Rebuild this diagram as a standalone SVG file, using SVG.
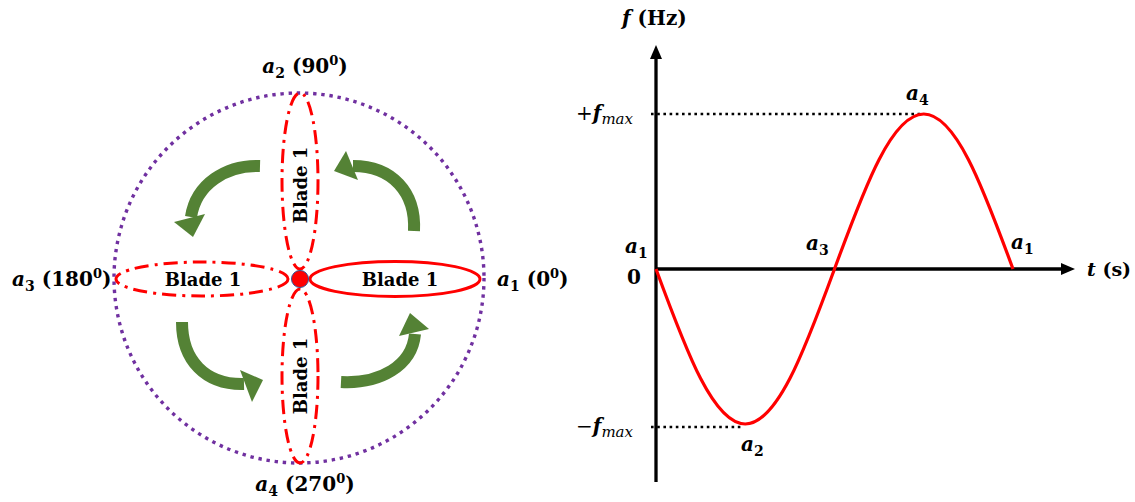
<svg xmlns="http://www.w3.org/2000/svg" width="1135" height="502" viewBox="0 0 1135 502">
<style>
.t{font-family:"DejaVu Serif","Liberation Serif",serif;font-weight:bold;fill:#000}
.m{font-style:italic}
.n{font-weight:normal}
.blade{fill:none;stroke:#ff0000;stroke-width:3}
.dd{stroke-dasharray:14 6 3 6}
.rot{fill:none;stroke:#548235;stroke-width:12}
.head{fill:#548235}
.dot{fill:none;stroke:#000;stroke-width:2.6;stroke-dasharray:2.6 3.6}
.axis{stroke:#000;stroke-width:3.3;fill:none}
</style>
<defs>
<marker id="ah" markerUnits="userSpaceOnUse" markerWidth="16" markerHeight="14" refX="2" refY="6" orient="auto">
<path d="M0,0 L14,6 L0,12 Z" fill="#000"/>
</marker>
</defs>

<g id="rotor-circle">
<circle cx="299" cy="278" r="185" fill="none" stroke="#7030a0" stroke-width="3.4" stroke-dasharray="3.4 4.8"/>
</g>

<g id="blade-right">
<ellipse class="blade" cx="395" cy="279" rx="85" ry="17.5"/>
<text class="t" x="400" y="286" font-size="18" text-anchor="middle">Blade 1</text>
</g>
<g id="blade-left">
<ellipse class="blade dd" cx="202" cy="279" rx="86" ry="17"/>
<text class="t" x="203" y="286" font-size="18" text-anchor="middle">Blade 1</text>
</g>
<g id="blade-top">
<ellipse class="blade dd" cx="300" cy="181" rx="18" ry="88"/>
<text class="t" transform="translate(307,185) rotate(-90)" font-size="18" text-anchor="middle">Blade 1</text>
</g>
<g id="blade-bottom">
<ellipse class="blade dd" cx="300" cy="376" rx="18" ry="87"/>
<text class="t" transform="translate(307,376) rotate(-90)" font-size="18" text-anchor="middle">Blade 1</text>
</g>
<g id="hub">
<circle cx="300" cy="279" r="8.5" fill="#ff0000" stroke="#2f5597" stroke-width="1"/>
</g>

<g id="rotation-arrows">
<path class="rot" d="M260,166 C226,165 196,184 191,217"/>
<polygon class="head" points="174,222 205,214 193,237"/>
<path class="rot" d="M414,231 C416,192 392,166 353,166"/>
<polygon class="head" points="346,151 358,180 334,171"/>
<path class="rot" d="M182,322 C182,360 205,385 244,384"/>
<polygon class="head" points="240,370 252,402 263,380"/>
<path class="rot" d="M341,382 C380,384 412,366 415,334"/>
<polygon class="head" points="399,336 429,329 410,313"/>
</g>

<g id="angle-labels">
<text class="t" x="305" y="73" font-size="20" text-anchor="middle"><tspan class="m">a</tspan><tspan font-size="14" dy="5">2</tspan><tspan dy="-5"> (90</tspan><tspan font-size="13" dy="-8">0</tspan><tspan dy="8">)</tspan></text>
<text class="t" x="12" y="286" font-size="20"><tspan class="m">a</tspan><tspan font-size="14" dy="5">3</tspan><tspan dy="-5"> (180</tspan><tspan font-size="13" dy="-8">0</tspan><tspan dy="8">)</tspan></text>
<text class="t" x="497" y="286" font-size="20"><tspan class="m">a</tspan><tspan font-size="14" dy="5">1</tspan><tspan dy="-5"> (0</tspan><tspan font-size="13" dy="-8">0</tspan><tspan dy="8">)</tspan></text>
<text class="t" x="305" y="491" font-size="20" text-anchor="middle"><tspan class="m">a</tspan><tspan font-size="14" dy="5">4</tspan><tspan dy="-5"> (270</tspan><tspan font-size="13" dy="-8">0</tspan><tspan dy="8">)</tspan></text>
</g>

<g id="graph-connectors">
<line class="axis" x1="656" y1="482" x2="656" y2="57" marker-end="url(#ah)"/>
<line class="axis" x1="656" y1="269" x2="1063" y2="269" marker-end="url(#ah)"/>
<line class="dot" x1="651" y1="114" x2="922" y2="114"/>
<line class="dot" x1="651" y1="427" x2="742" y2="427"/>
<path fill="none" stroke="#ff0000" stroke-width="3.2" d="M656,269 C670.875,309.58 685.75,349.91 700.625,378.6 C715.5,407.29 730.375,424 745.25,424 C760.125,424 775,407.29 789.875,378.6 C804.75,349.91 819.625,309.58 834.5,269 C849.375,228.42 864.25,188.09 879.125,159.4 C894,130.71 908.875,114 923.75,114 C938.625,114 953.5,130.71 968.375,159.4 C983.25,188.09 998.125,228.42 1013,269"/>
</g>

<g id="graph-labels">
<text class="t" x="622" y="25" font-size="20"><tspan class="m">f</tspan> (Hz)</text>
<text class="t" x="1087" y="276" font-size="19"><tspan class="m">t</tspan> (s)</text>
<text class="t" x="576" y="120" font-size="20"><tspan class="n">+</tspan><tspan class="m">f</tspan><tspan class="m n" font-size="15" dy="4">max</tspan></text>
<text class="t" x="576" y="433" font-size="20"><tspan class="n">−</tspan><tspan class="m">f</tspan><tspan class="m n" font-size="15" dy="4">max</tspan></text>
<text class="t" x="625" y="253" font-size="20"><tspan class="m">a</tspan><tspan font-size="14" dy="5">1</tspan></text>
<text class="t" x="627" y="284" font-size="20">0</text>
<text class="t" x="806" y="250" font-size="20"><tspan class="m">a</tspan><tspan font-size="14" dy="5">3</tspan></text>
<text class="t" x="1011" y="249" font-size="20"><tspan class="m">a</tspan><tspan font-size="14" dy="5">1</tspan></text>
<text class="t" x="906" y="100" font-size="20"><tspan class="m">a</tspan><tspan font-size="14" dy="5">4</tspan></text>
<text class="t" x="741" y="451" font-size="20"><tspan class="m">a</tspan><tspan font-size="14" dy="5">2</tspan></text>
</g>
</svg>
